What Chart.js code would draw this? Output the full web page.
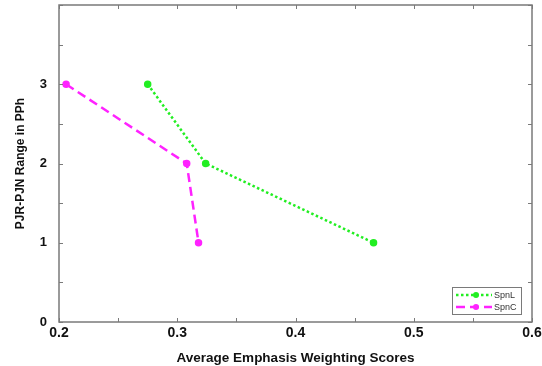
<!DOCTYPE html>
<html><head><meta charset="utf-8">
<script src="https://cdn.jsdelivr.net/npm/chart.js@4/dist/chart.umd.min.js"></script>
<style>html,body{margin:0;padding:0;background:#fff}#wrap{width:542px;height:366px}</style>
</head><body><div id="wrap"><canvas id="c" width="542" height="366"></canvas></div>
<script>
const seriesNames = ["SpnL", "SpnC"];
const rangeValues = [3, 2, 1];
const spnLScores = [0.275, 0.324, 0.466];
const spnCScores = [0.206, 0.308, 0.318];
const xTicks = [0.2, 0.3, 0.4, 0.5, 0.6];
const yTicks = [0, 1, 2, 3];
const xTitle = "Average Emphasis Weighting Scores";
const yTitle = "PJR-PJN Range in PPh";

const FONT = "'Liberation Sans', Arial, sans-serif";

const framePlugin = {
  id: 'frame',
  afterDraw(chart) {
    const {ctx, chartArea: a, scales: {x, y}} = chart;
    ctx.save();
    ctx.strokeStyle = '#7a7a7a';
    ctx.lineWidth = 1.5;
    ctx.strokeRect(a.left, a.top, a.right - a.left, a.bottom - a.top);
    ctx.lineWidth = 1;
    const L = 4;
    for (let v = 0.2; v <= 0.6001; v += 0.05) {
      const px = Math.round(x.getPixelForValue(v)) + 0.5;
      ctx.beginPath();
      ctx.moveTo(px, a.bottom); ctx.lineTo(px, a.bottom - L);
      ctx.moveTo(px, a.top); ctx.lineTo(px, a.top + L);
      ctx.stroke();
    }
    for (let v = 0; v <= 4.001; v += 0.5) {
      const py = Math.round(y.getPixelForValue(v)) + 0.5;
      ctx.beginPath();
      ctx.moveTo(a.left, py); ctx.lineTo(a.left + L, py);
      ctx.moveTo(a.right, py); ctx.lineTo(a.right - L, py);
      ctx.stroke();
    }
    // legend
    const bx = 452, by = 287, bw = 69, bh = 27;
    ctx.fillStyle = '#fff';
    ctx.fillRect(bx, by, bw, bh);
    ctx.strokeStyle = '#7a7a7a';
    ctx.lineWidth = 1;
    ctx.strokeRect(bx + 0.5, by + 0.5, bw, bh);
    chart.data.datasets.forEach((ds, i) => {
      const yy = by + 8 + i * 12;
      ctx.strokeStyle = ds.borderColor;
      ctx.lineWidth = 2.5;
      ctx.setLineDash(ds.borderDash);
      ctx.beginPath(); ctx.moveTo(bx + 4, yy); ctx.lineTo(bx + 40, yy); ctx.stroke();
      ctx.setLineDash([]);
      ctx.fillStyle = ds.borderColor;
      ctx.beginPath(); ctx.arc(bx + 24, yy, 3, 0, Math.PI * 2); ctx.fill();
      ctx.fillStyle = '#333';
      ctx.font = "9px " + FONT;
      ctx.textBaseline = 'middle';
      ctx.fillText(ds.label, bx + 42, yy + 0.5);
    });
    ctx.restore();
  }
};

new Chart(document.getElementById('c'), {
  type: 'scatter',
  data: {
    datasets: [
      { label: seriesNames[0], data: spnLScores.map((s, i) => ({x: s, y: rangeValues[i]})),
        showLine: true, borderColor: '#22ee22', backgroundColor: '#22ee22',
        borderWidth: 2.5, borderDash: [2.5, 2.5], pointRadius: 2.5, pointHoverRadius: 2.5 },
      { label: seriesNames[1], data: spnCScores.map((s, i) => ({x: s, y: rangeValues[i]})),
        showLine: true, borderColor: '#ff22ff', backgroundColor: '#ff22ff',
        borderWidth: 2.5, borderDash: [9, 5], pointRadius: 2.5, pointHoverRadius: 2.5 }
    ]
  },
  options: {
    responsive: false, animation: false,
    layout: { padding: { top: 5, right: 10, left: 0, bottom: 0 } },
    plugins: { legend: { display: false }, tooltip: { enabled: false } },
    scales: {
      x: {
        min: 0.2, max: 0.6,
        afterBuildTicks: s => { s.ticks = xTicks.map(v => ({value: v})); },
        afterFit: s => { s.height = 44; },
        grid: { display: false }, border: { display: false },
        ticks: { color: '#111', font: { family: FONT, size: 14, weight: 'bold' }, padding: -5,
                 callback: v => Number(v).toFixed(1), maxRotation: 0, autoSkip: false },
        title: { display: true, text: xTitle, color: '#111', font: { family: FONT, size: 13.5, weight: 'bold' }, padding: { top: 4, bottom: 0 } }
      },
      y: {
        min: 0, max: 4,
        afterBuildTicks: s => { s.ticks = yTicks.map(v => ({value: v})); },
        afterFit: s => { s.width = 59; s.paddingTop = 0; s.paddingBottom = 0; },
        grid: { display: false }, border: { display: false },
        ticks: { color: '#111', font: { family: FONT, size: 13, weight: 'bold' }, padding: 4 },
        title: { display: true, text: yTitle, color: '#111', font: { family: FONT, size: 12, weight: 'bold' }, padding: { top: 13, bottom: 0 } }
      }
    }
  },
  plugins: [framePlugin]
});
</script></body></html>
